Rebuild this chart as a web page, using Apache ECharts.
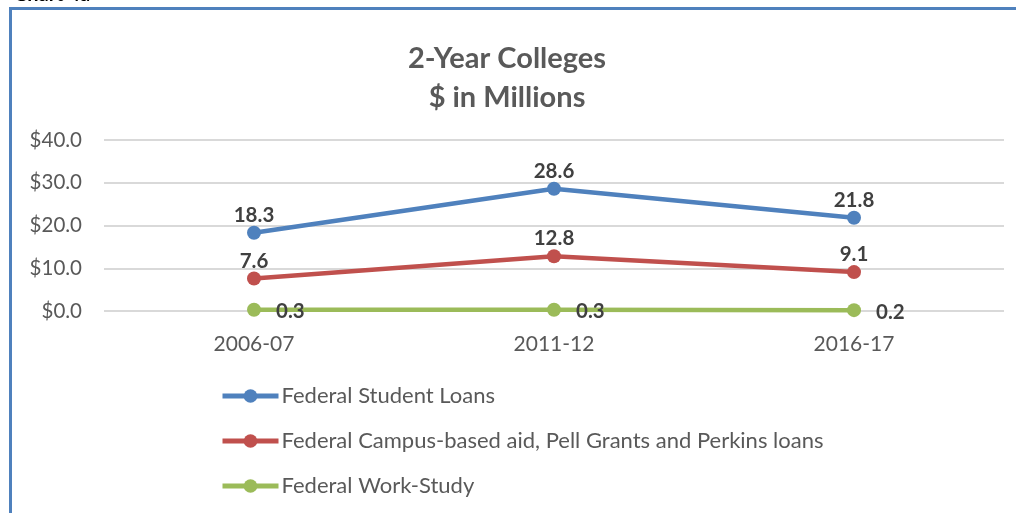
<!DOCTYPE html>
<html>
<head>
<meta charset="utf-8">
<script src="https://cdn.jsdelivr.net/npm/echarts@6/dist/echarts.min.js"></script>
<style>html,body{margin:0;padding:0;background:#fff;}#c{width:1016px;height:513px;}</style>
</head>
<body>
<div id="c"></div>
<script>
const categories = ['2006-07', '2011-12', '2016-17'];
const studentLoans = [18.3, 28.6, 21.8];
const campusAid = [7.6, 12.8, 9.1];
const workStudy = [0.3, 0.3, 0.2];
const seriesNames = ['Federal Student Loans', 'Federal Campus-based aid, Pell Grants and Perkins loans', 'Federal Work-Study'];
const colors = ['#4F81BD', '#C0504D', '#9BBB59'];
const FONT = 'Lato';

const chart = echarts.init(document.getElementById('c'), null, {renderer: 'canvas'});
function mk(name, data, color, pos) {
  return {
    name: name, type: 'line', data: data,
    symbol: 'circle', symbolSize: 14,
    lineStyle: {width: 4.5, color: color},
    itemStyle: {color: color},
    label: {
      show: true, position: pos, distance: pos === 'right' ? 15 : 0,
      offset: pos === 'right' ? [0, 2] : [0, 0],
      formatter: p => p.value.toFixed(1),
      fontFamily: FONT, fontWeight: 'bold', fontSize: 20.5, color: '#404040'
    },
    emphasis: {disabled: true},
    animation: false
  };
}
chart.setOption({
  animation: false,
  title: {
    text: '2-Year Colleges\n$ in Millions',
    left: 502, top: 34, textAlign: 'center',
    textStyle: {fontFamily: FONT, fontWeight: 'bold', fontSize: 29, color: '#595959', lineHeight: 39}
  },
  graphic: [
    {type: 'rect', shape: {x: 10.5, y: 8.5, width: 1100, height: 600}, style: {fill: 'none', stroke: '#4F81BD', lineWidth: 3}, silent: true},
    {type: 'text', left: 14, top: -15, style: {text: 'Chart 4a', fontFamily: FONT, fontWeight: 'bold', fontSize: 20, fill: '#000'}}
  ],
  legend: {
    orient: 'vertical', left: 215, top: 380, itemGap: 23,
    itemWidth: 56, itemHeight: 17,
    data: seriesNames,
    lineStyle: {width: 5},
    textStyle: {fontFamily: FONT, fontSize: 22, color: '#595959', padding: [0, 0, 0, -2]}
  },
  grid: {left: 104, right: 12, top: 140, height: 171, containLabel: false},
  xAxis: {
    type: 'category', data: categories, boundaryGap: true,
    axisLine: {show: false}, axisTick: {show: false},
    axisLabel: {fontFamily: FONT, fontSize: 21, color: '#595959', margin: 23}
  },
  yAxis: {
    type: 'value', min: 0, max: 40, interval: 10,
    axisLine: {show: false}, axisTick: {show: false},
    splitLine: {lineStyle: {color: '#D9D9D9', width: 2}},
    axisLabel: {fontFamily: FONT, fontSize: 20.5, color: '#595959', margin: 22, formatter: v => '$' + v.toFixed(1)}
  },
  series: [
    mk(seriesNames[0], studentLoans, colors[0], 'top'),
    mk(seriesNames[1], campusAid, colors[1], 'top'),
    mk(seriesNames[2], workStudy, colors[2], 'right')
  ]
});
</script>
</body>
</html>
